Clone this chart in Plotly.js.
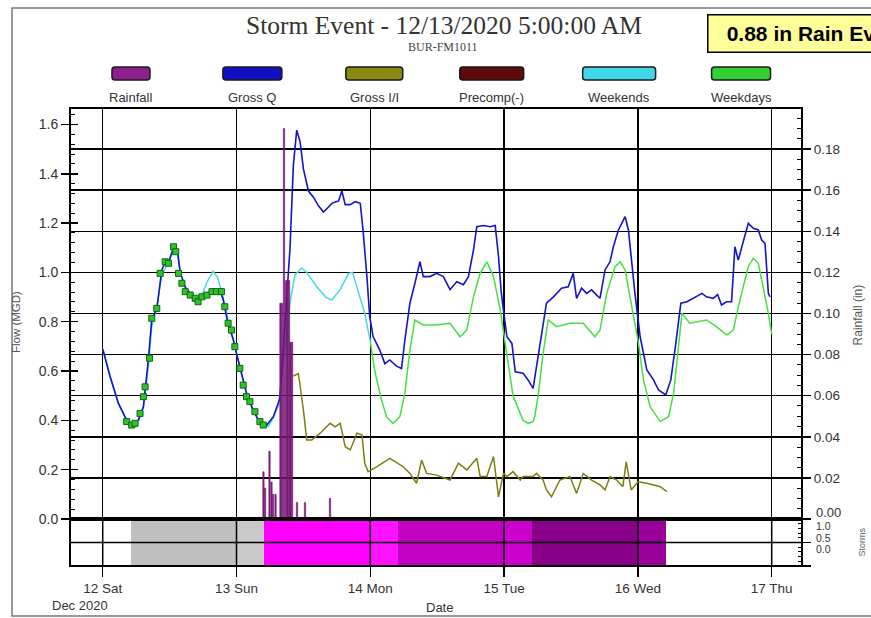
<!DOCTYPE html>
<html><head><meta charset="utf-8">
<script src="https://cdn.plot.ly/plotly-3.0.1.min.js"></script>
<style>html,body{margin:0;padding:0;background:#fff;}#chart{width:871px;height:618px;}</style>
</head><body><div id="chart"></div>
<script>
// ---------------- DATA ----------------
const dayTicks = ['12 00:00','13 00:00','14 00:00','15 00:00','16 00:00','17 00:00'];
const dayLabels = ['12 Sat','13 Sun','14 Mon','15 Tue','16 Wed','17 Thu'];
const flowTicks = [0, 0.2, 0.4, 0.6, 0.8, 1.0, 1.2, 1.4, 1.6];
const rainTicks = [0.02, 0.04, 0.06, 0.08, 0.10, 0.12, 0.14, 0.16, 0.18];
const stormTickLabels = ['1.0', '0.5', '0.0'];

const grossQTime = ['12 00:00','12 01:18','12 02:48','12 04:18','12 05:12','12 06:24','12 07:18','12 07:36','12 08:12','12 08:48','12 09:42','12 10:36','12 11:12','12 11:48','12 12:42','12 13:24','12 13:54','12 14:48','12 15:42','12 16:54','12 17:42','12 18:42','12 19:48','12 21:00','12 21:36','12 22:30','12 23:24',
'13 00:00','13 00:54','13 01:48','13 03:00','13 04:12','13 05:24','13 06:36','13 07:48','13 09:00','13 09:36','13 10:12','13 10:48','13 11:24','13 12:00','13 12:54','13 13:48','13 14:42','13 15:36','13 16:30','13 17:06','13 17:42','13 18:18','13 18:54','13 19:30','13 20:24','13 21:18','13 22:12','13 22:42','13 23:24','13 23:54',
'14 00:30','14 01:42','14 02:36','14 03:30','14 04:42','14 05:36','14 06:12','14 07:06','14 08:00','14 08:54','14 09:30','14 10:42','14 11:54','14 13:06','14 14:18','14 15:30','14 16:42','14 17:36','14 18:30','14 19:06','14 20:18','14 21:30','14 22:24','14 23:00','14 23:30',
'15 00:30','15 01:24','15 02:00','15 03:24','15 04:18','15 05:12','15 05:48','15 06:42','15 07:36','15 08:48','15 10:18','15 11:30','15 12:24','15 13:00','15 13:54','15 14:48','15 15:42','15 16:36','15 17:12','15 18:06','15 19:00','15 19:36','15 20:30','15 21:06','15 21:42','15 22:18','15 22:54','15 23:30',
'16 00:24','16 01:36','16 02:48','16 03:42','16 05:00','16 05:54','16 06:48','16 07:42','16 08:48','16 10:00','16 11:30','16 12:18','16 13:30','16 14:18','16 15:00','16 15:54','16 16:48','16 17:24','16 18:00','16 18:54','16 19:48','16 20:42','16 21:36','16 22:12','16 22:48','16 23:24','16 23:42'];
const grossQ = [0.69,0.58,0.47,0.40,0.38,0.40,0.455,0.52,0.65,0.81,0.85,1.01,1.04,1.04,1.10,1.09,1.00,0.94,0.915,0.89,0.895,0.915,0.92,0.93,0.89,0.79,0.73,
0.67,0.59,0.51,0.44,0.39,0.38,0.415,0.49,0.88,1.10,1.435,1.577,1.53,1.42,1.33,1.305,1.27,1.245,1.265,1.28,1.285,1.29,1.33,1.275,1.275,1.287,1.28,1.17,0.98,0.82,
0.74,0.685,0.63,0.645,0.62,0.61,0.726,0.875,0.956,1.043,0.983,0.983,0.996,0.983,0.93,0.962,0.95,0.983,1.09,1.185,1.19,1.185,1.19,1.064,0.915,
0.739,0.712,0.597,0.591,0.564,0.53,0.618,0.753,0.875,0.90,0.936,0.942,0.996,0.895,0.936,0.915,0.929,0.908,0.895,1.01,1.043,1.104,1.172,1.199,1.226,1.172,1.037,0.908,
0.739,0.604,0.564,0.523,0.503,0.564,0.712,0.875,0.881,0.895,0.915,0.901,0.895,0.91,0.868,0.881,0.881,1.104,1.05,1.125,1.199,1.179,1.172,1.131,1.118,0.915,0.901];

const weekendTime = ['12 00:00','12 01:18','12 02:48','12 04:18','12 05:12','12 06:24','12 07:18','12 08:12','12 08:48','12 09:42','12 10:36','12 11:48','12 12:42','12 13:24','12 13:54','12 14:48','12 15:42','12 16:54','12 17:42','12 18:42','12 19:48','12 20:36','12 21:36','12 22:30','12 23:24',
'13 00:00','13 00:54','13 01:48','13 03:00','13 04:12','13 05:42','13 06:36','13 07:30','13 08:42','13 09:36','13 10:30','13 11:42','13 12:36','13 14:24','13 16:00','13 17:06','13 18:36','13 20:06','13 20:48','13 21:36','13 23:00','14 00:00'];
const weekends = [0.69,0.58,0.47,0.40,0.38,0.40,0.455,0.62,0.78,0.86,0.99,1.04,1.09,1.08,1.00,0.94,0.915,0.89,0.90,0.96,1.005,0.98,0.90,0.80,0.73,
0.67,0.59,0.51,0.44,0.39,0.375,0.41,0.46,0.69,0.88,0.99,1.018,1.0,0.942,0.90,0.888,0.93,0.996,1.0,0.942,0.834,0.72];

const weekdayTime = ['14 00:00','14 00:48','14 02:00','14 02:54','14 04:06','14 05:18','14 06:12','14 07:06','14 08:00','14 09:30','14 11:54','14 14:18','14 16:06','14 17:18','14 18:30','14 19:42','14 20:54','14 22:06','14 23:18',
'15 00:30','15 01:36','15 03:24','15 04:18','15 05:12','15 05:30','15 06:06','15 07:00','15 07:54','15 09:24','15 11:48','15 14:12','15 16:18','15 17:12','15 18:24','15 19:54','15 20:48','15 21:42','15 22:54',
'16 00:06','16 01:00','16 02:12','16 04:00','16 05:30','16 06:24','16 07:12','16 07:54','16 09:18','16 12:18','16 14:06','16 15:54','16 17:06','16 18:18','16 19:48','16 20:42','16 21:36','16 22:30','16 23:24','17 00:00'];
const weekdays = [0.72,0.60,0.483,0.415,0.388,0.415,0.51,0.685,0.807,0.787,0.787,0.794,0.739,0.766,0.901,0.996,1.043,0.983,0.848,
0.672,0.50,0.40,0.388,0.395,0.415,0.50,0.672,0.807,0.78,0.794,0.794,0.739,0.766,0.915,1.023,1.043,1.01,0.861,
0.712,0.564,0.455,0.395,0.415,0.51,0.672,0.834,0.794,0.807,0.78,0.746,0.766,0.888,1.023,1.057,1.037,0.942,0.834,0.75];

const dryMarkTime = ['12 04:18','12 05:12','12 05:48','12 06:42','12 07:18','12 07:36','12 08:24','12 08:48','12 09:42','12 10:18','12 11:12','12 11:48','12 12:42','12 13:06','12 13:36','12 14:12','12 14:48','12 15:42','12 16:36','12 17:06','12 17:48','12 18:42','12 19:36','12 20:24','12 21:18','12 21:54','12 22:30','12 23:06','12 23:42',
'13 00:36','13 01:12','13 01:48','13 02:24','13 03:18','13 04:12','13 04:48'];
const dryMarkFlow = [0.395,0.381,0.388,0.428,0.496,0.536,0.652,0.814,0.854,0.996,1.043,1.037,1.104,1.084,0.996,0.956,0.922,0.908,0.895,0.881,0.901,0.908,0.922,0.922,0.922,0.861,0.794,0.766,0.699,
0.611,0.543,0.496,0.476,0.435,0.395,0.381];

const grossIITime = ['13 10:12','13 11:06','13 12:00','13 12:36','13 13:30','13 15:00','13 16:48','13 17:42','13 18:36','13 19:30','13 20:24','13 21:36','13 22:30','13 23:00','13 23:36',
'14 01:12','14 03:30','14 05:54','14 07:06','14 08:18','14 09:12','14 10:06','14 11:54','14 14:18','14 15:48','14 17:18','14 19:06','14 19:42','14 20:54','14 22:06','14 23:00','14 23:54',
'15 00:30','15 01:36','15 02:54','15 03:24','15 05:12','15 05:48','15 07:00','15 07:36','15 08:30','15 10:00','15 11:48','15 13:00','15 14:12','15 15:42','15 17:12','15 18:06','15 19:00','15 20:12','15 21:18','15 21:54','15 22:48',
'16 00:00','16 01:36','16 02:48','16 04:00','16 05:12'];
const grossII = [0.58,0.59,0.442,0.32,0.32,0.348,0.388,0.374,0.388,0.293,0.28,0.348,0.341,0.226,0.192,
0.212,0.246,0.212,0.185,0.145,0.239,0.185,0.178,0.158,0.226,0.199,0.246,0.172,0.172,0.253,0.09,0.185,
0.172,0.192,0.158,0.172,0.172,0.185,0.158,0.118,0.09,0.158,0.172,0.104,0.185,0.158,0.138,0.118,0.172,0.158,0.131,0.232,0.118,
0.151,0.145,0.138,0.131,0.111];

const rainTime = ['13 04:50','13 05:07','13 05:55','13 06:17','13 06:33','13 07:00','13 07:53','13 08:10','13 08:31','13 08:53','13 09:09','13 09:25','13 09:41','13 09:58','13 10:51','13 12:17','13 16:46'];
const rainfall = [0.023,0.015,0.033,0.018,0.012,0.012,0.105,0.105,0.19,0.116,0.116,0.116,0.086,0.086,0.008,0.008,0.010];

const stormStart = ['12 05:00','13 00:00','13 05:00','14 00:00','14 05:00','15 00:00','15 05:00','16 00:00'];
const stormEnd   = ['13 00:00','13 05:00','14 00:00','14 05:00','15 00:00','15 05:00','16 00:00','16 05:00'];
const stormColor = ['#bfbfbf','#c9c9c9','#ff00ff','#ff12ff','#c200c2','#cc00cc','#870087','#990099'];

const legendNames  = ['Rainfall','Gross Q','Gross I/I','Precomp(-)','Weekends','Weekdays'];
const legendColors = ['#8e1f8e','#1010c0','#8a8a10','#5c0a0a','#40d8e8','#33d033'];

// ---------------- helpers ----------------
const D = s => '2020-12-' + s;
const ms = s => Date.parse(D(s).replace(' ', 'T') + ':00Z');

// layout geometry (pixels in the 871x618 page)
const PL = 70, PR = 802.5, PT = 108, PB = 566, PSPLIT = 519;
const fx = p => (p - PL) / (PR - PL);
const fy = p => (PB - p) / (PB - PT);
const sTop = fy(PSPLIT);
const FONT = 'Liberation Sans';
const TXT = '#333';

// ---------------- traces ----------------
const traces = [
  { x: stormStart.map(D), y: stormStart.map(() => 1), base: 0, type: 'bar', offset: 0,
    width: stormStart.map((s, i) => ms(stormEnd[i]) - ms(s)),
    marker: { color: stormColor, line: { width: 0 } }, xaxis: 'x', yaxis: 'y3', hoverinfo: 'skip' },
  { x: weekendTime.map(D), y: weekends, mode: 'lines', line: { color: '#48d8e8', width: 1.5 }, yaxis: 'y' },
  { x: weekdayTime.map(D), y: weekdays, mode: 'lines', line: { color: '#44e044', width: 1.5 }, yaxis: 'y' },
  { x: grossQTime.map(D), y: grossQ, mode: 'lines', line: { color: '#1414c8', width: 1.6 }, yaxis: 'y' },
  { x: dryMarkTime.map(D), y: dryMarkFlow, mode: 'markers',
    marker: { symbol: 'square', size: 6, color: '#30c030', line: { color: '#0a6a0a', width: 1 } }, yaxis: 'y' },
  { x: grossIITime.map(D), y: grossII, mode: 'lines', line: { color: '#7d7d12', width: 1.5 }, yaxis: 'y' },
  { x: rainTime.map(D), y: rainfall, type: 'bar', width: 15 * 60000,
    marker: { color: '#8e1f8e', line: { color: '#5a0f5a', width: 0.5 } }, yaxis: 'y2' }
];

// ---------------- shapes ----------------
const shapes = [];
shapes.push({ type: 'rect', xref: 'paper', yref: 'paper', x0: fx(12), x1: fx(885), y0: fy(616), y1: fy(8),
  line: { color: '#777', width: 1.5 }, layer: 'below' });
dayTicks.forEach(d => shapes.push({ type: 'line', xref: 'x', yref: 'y3', x0: D(d), x1: D(d), y0: 0, y1: 1,
  line: { color: '#000', width: 1.5 }, layer: 'above' }));
shapes.push({ type: 'line', xref: 'paper', yref: 'y3', x0: 0, x1: 1, y0: 0.5, y1: 0.5, line: { color: '#000', width: 1.5 }, layer: 'above' });
shapes.push({ type: 'rect', xref: 'paper', yref: 'paper', x0: 0, x1: 1, y0: sTop, y1: 1, line: { color: '#000', width: 2 }, layer: 'above' });
shapes.push({ type: 'rect', xref: 'paper', yref: 'paper', x0: 0, x1: 1, y0: 0, y1: sTop, line: { color: '#000', width: 2 }, layer: 'above' });
shapes.push({ type: 'line', xref: 'paper', yref: 'paper', x0: 0, x1: 1, y0: sTop, y1: sTop, line: { color: '#000', width: 4 }, layer: 'above' });

const swatchX = [[112, 150], [223, 282], [346, 403], [460, 524], [583, 656], [712, 771]];
const swY0 = 67, swY1 = 80, rad = 3;
function roundRect(x0, x1, y0, y1, r) {
  const a = fx(x0), b = fx(x1), c = fy(y1), d = fy(y0);
  const rx = r / (PR - PL), ry = r / (PB - PT);
  return `M${a + rx},${c} L${b - rx},${c} Q${b},${c} ${b},${c + ry} L${b},${d - ry} Q${b},${d} ${b - rx},${d} ` +
         `L${a + rx},${d} Q${a},${d} ${a},${d - ry} L${a},${c + ry} Q${a},${c} ${a + rx},${c} Z`;
}
const annotations = [];
function label(text, xp, yp, opts) {
  annotations.push(Object.assign({ xref: 'paper', yref: 'paper', x: fx(xp), y: fy(yp), text: text, showarrow: false,
    xanchor: 'center', yanchor: 'middle', font: { family: FONT, size: 13, color: TXT } }, opts || {}));
}
legendNames.forEach((n, i) => {
  const [x0, x1] = swatchX[i];
  shapes.push({ type: 'path', xref: 'paper', yref: 'paper', path: roundRect(x0, x1, swY0, swY1, rad),
    fillcolor: legendColors[i], line: { color: '#1a1a1a', width: 1.5 }, layer: 'above' });
  label(n, (x0 + x1) / 2, 97);
});

label('BUR-FM1011', 443, 47, { font: { family: 'Liberation Serif', size: 12, color: '#444' } });
label('&nbsp;&nbsp;<b>0.88 in Rain Event</b>', 707, 33.5, { xanchor: 'left', align: 'left',
  font: { family: FONT, size: 21, color: '#000' }, bgcolor: '#ffff99', bordercolor: '#000', borderwidth: 1.5, borderpad: 6.5 });
label('Flow (MGD)', 16, 322, { textangle: -90, font: { family: FONT, size: 11.5, color: '#555' } });
label('Rainfall (in)', 859, 315, { textangle: -90, font: { family: FONT, size: 12, color: '#555' } });
label('Storms', 863, 542, { textangle: -90, font: { family: FONT, size: 9, color: '#666' } });
label('0.00', 815, 512.5, { xanchor: 'left', font: { family: FONT, size: 13, color: TXT } });
[526, 537.5, 549].forEach((y, i) => label(stormTickLabels[i], 815, y, { xanchor: 'left', font: { family: FONT, size: 10.5, color: TXT } }));
label('Dec 2020', 80, 605);
label('Date', 440, 607);

const yMaxFlow = 1.6666667, yMaxRain = 0.2;
const layout = {
  width: 871, height: 618, autosize: false,
  margin: { l: PL, r: 871 - PR, t: PT, b: 618 - PB, pad: 0 },
  paper_bgcolor: '#fff', plot_bgcolor: '#fff', showlegend: false, bargap: 0,
  title: { text: 'Storm Event - 12/13/2020 5:00:00 AM', font: { family: 'Liberation Serif', size: 25.5, color: '#333' },
    x: 444 / 871, xanchor: 'center', xref: 'container', y: 1 - 25 / 618, yanchor: 'middle', yref: 'container' },
  xaxis: { type: 'date', range: [D('11 18:08'), D('17 05:26')], anchor: 'y3',
    tickmode: 'array', tickvals: dayTicks.map(D), ticktext: dayLabels,
    ticks: 'outside', ticklen: 10, tickwidth: 1.5, tickcolor: '#000',
    showgrid: true, gridcolor: '#000', gridwidth: 1.5, showline: false, zeroline: false,
    tickfont: { family: FONT, size: 13.5, color: TXT } },
  yaxis: { domain: [sTop, 1], range: [0, yMaxFlow], anchor: 'x', tickmode: 'array', tickvals: flowTicks, tickformat: '.1f',
    ticks: 'outside', ticklen: 8, tickwidth: 1.5, tickcolor: '#000', showgrid: false, zeroline: false, showline: false,
    minor: { tickmode: 'linear', tick0: 0, dtick: 0.04, ticks: 'inside', ticklen: 5, tickwidth: 1, tickcolor: '#000', showgrid: false },
    tickfont: { family: FONT, size: 14, color: TXT } },
  yaxis2: { overlaying: 'y', side: 'right', anchor: 'x', range: [0, yMaxRain], tickmode: 'array', tickvals: rainTicks, tickformat: '.2f',
    ticks: 'outside', ticklen: 8, tickwidth: 1.5, tickcolor: '#000', showgrid: true, gridcolor: '#000', gridwidth: 1.5,
    zeroline: false, showline: false,
    minor: { tickmode: 'linear', tick0: 0, dtick: 0.005, ticks: 'inside', ticklen: 5, tickwidth: 1, tickcolor: '#000', showgrid: false },
    tickfont: { family: FONT, size: 13.5, color: TXT } },
  yaxis3: { domain: [0, sTop], range: [0, 1], anchor: 'x', side: 'right', showticklabels: false,
    tickmode: 'array', tickvals: [0, 0.5, 1], ticks: 'outside', ticklen: 8, tickwidth: 1.5, tickcolor: '#000', showgrid: false, zeroline: false,
    minor: { tickmode: 'linear', tick0: 0, dtick: 0.1, ticks: 'inside', ticklen: 4, tickwidth: 1, tickcolor: '#000', showgrid: false } },
  yaxis4: { overlaying: 'y', side: 'left', anchor: 'x', range: [0, yMaxFlow], tickmode: 'array', tickvals: flowTicks, showticklabels: false,
    ticks: 'inside', ticklen: 8, tickwidth: 1.5, tickcolor: '#000', showgrid: false, zeroline: false, showline: false },
  yaxis5: { overlaying: 'y', side: 'right', anchor: 'x', range: [0, yMaxRain], tickmode: 'array', tickvals: [0].concat(rainTicks), showticklabels: false,
    ticks: 'inside', ticklen: 8, tickwidth: 1.5, tickcolor: '#000', showgrid: false, zeroline: false, showline: false },
  shapes: shapes,
  annotations: annotations
};
traces.push({ x: [D('12 00:00')], y: [null], yaxis: 'y4', mode: 'lines', hoverinfo: 'skip' });
traces.push({ x: [D('12 00:00')], y: [null], yaxis: 'y5', mode: 'lines', hoverinfo: 'skip' });

Plotly.newPlot('chart', traces, layout, { displayModeBar: false, staticPlot: true });
</script></body></html>
